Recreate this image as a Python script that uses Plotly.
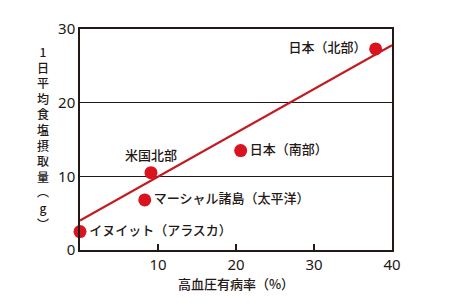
import plotly.graph_objects as go

regions = ["イヌイット（アラスカ）", "マーシャル諸島（太平洋）", "米国北部", "日本（南部）", "日本（北部）"]
hypertension = [0.0, 8.3, 9.1, 20.6, 37.9]
salt = [2.5, 6.8, 10.5, 13.5, 27.3]
label_pos = ["middle right", "middle right", "top center", "middle right", "middle left"]

trend_x = [0, 40]
trend_y = [4.0, 27.8]

x_ticks = [10, 20, 30, 40]
y_ticks = [0, 10, 20, 30]

y_title_chars = ["1", "日", "平", "均", "食", "塩", "摂", "取", "量", "︵", "g", "︶"]

RED = "#d9141e"
LINE_RED = "#c41a22"
INK = "#231815"
FONT = "Noto Sans CJK JP"

W, H = 450, 305
ML, MR, MT, MB = 80, 58, 29, 55

fig = go.Figure()
fig.add_trace(go.Scatter(
    x=trend_x, y=trend_y, mode="lines",
    line=dict(color=LINE_RED, width=2.2), cliponaxis=False, hoverinfo="skip"))
fig.add_trace(go.Scatter(
    x=hypertension, y=salt, mode="markers+text",
    marker=dict(color=RED, size=13),
    text=regions, textposition=label_pos,
    textfont=dict(family=FONT, size=13, color=INK, weight=500),
    cliponaxis=False))

plot_h = H - MT - MB
fig.add_annotation(
    text="<br>".join(y_title_chars), xref="paper", yref="paper",
    x=(43 - ML) / (W - ML - MR), y=(H - MB - 137) / plot_h,
    showarrow=False, xanchor="center", yanchor="middle", align="center",
    font=dict(family=FONT, size=12, color=INK, weight=500))

fig.update_layout(
    width=W, height=H,
    margin=dict(l=ML, r=MR, t=MT, b=MB),
    paper_bgcolor="white", plot_bgcolor="white",
    showlegend=False,
    font=dict(family=FONT, color=INK),
    xaxis=dict(
        range=[0, 40], tickvals=x_ticks, ticks="inside", ticklen=6,
        tickwidth=1.5, tickcolor=INK,
        showline=True, linecolor=INK, linewidth=1.5, mirror=True,
        showgrid=False, zeroline=False,
        tickfont=dict(family="Noto Sans", size=15, color=INK),
        title=dict(text="高血圧有病率（%）", font=dict(family=FONT, size=13, color=INK, weight=500), standoff=6)),
    yaxis=dict(
        range=[0, 30], tickvals=y_ticks, ticks="",
        showline=True, linecolor=INK, linewidth=1.5, mirror=True,
        showgrid=True, gridcolor=INK, gridwidth=1.3, zeroline=False,
        tickfont=dict(family="Noto Sans", size=15, color=INK)),
)

fig.write_html("out.html", config={"displayModeBar": False},
               post_script="document.body.style.margin='0';")
